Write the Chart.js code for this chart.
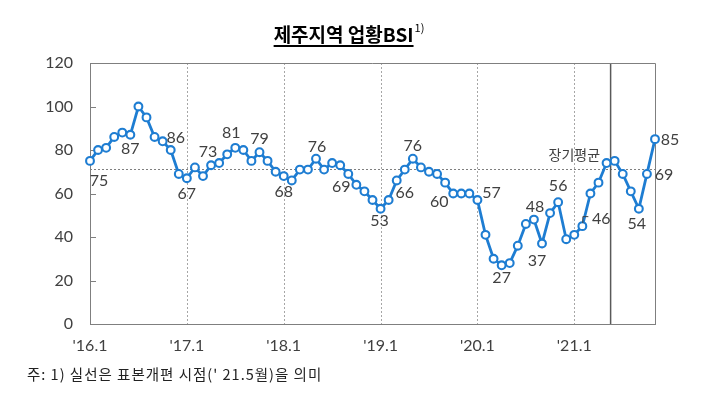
<!DOCTYPE html>
<html><head><meta charset="utf-8">
<script src="https://cdn.jsdelivr.net/npm/chart.js@4"></script>
<style>
html,body{margin:0;padding:0;background:#fff;}
#wrap{position:relative;width:710px;height:397px;overflow:hidden;}
#c{position:absolute;left:0;top:0;}
#title{position:absolute;top:20px;left:-6px;width:710px;text-align:center;font-family:"Noto Sans CJK KR";font-weight:bold;font-size:19px;color:#000;white-space:nowrap;}
#title .t{text-decoration:underline;text-underline-offset:3px;text-decoration-thickness:1.5px;}
#title sup{font-size:11px;font-weight:normal;position:relative;top:-3px;margin-left:1px;}
#note{position:absolute;left:27px;top:363px;font-family:"Noto Sans CJK KR";font-size:14.5px;letter-spacing:1px;color:#222;white-space:nowrap;}
</style>
</head><body>
<div id="wrap">
<canvas id="c" width="710" height="397"></canvas>
<div id="title"><span class="t">제주지역 업황BSI</span><sup>1)</sup></div>
<div id="note">주: 1) 실선은 표본개편 시점(' 21.5월)을 의미</div>
</div>
<script>
// ---- data ----
const years = ['16','17','18','19','20','21'];
const bsi2016 = [75,80,81,86,88,87,100,95,86,84,80,69];
const bsi2017 = [67,72,68,73,74,78,81,80,75,79,75,70];
const bsi2018 = [68,66,71,71,76,71,74,73,69,64,61,57];
const bsi2019 = [53,57,66,71,76,72,70,69,65,60,60,60];
const bsi2020 = [57,41,30,27,28,36,46,48,37,51,56,39];
const bsi2021 = [41,45,60,65,74,75,69,61,53,69,85];
const longTermAvg = 71.3;
const sampleRevisionIndex = 64.5; // between '21.5 and '21.6
const yTicks = [0,20,40,60,80,100,120];
const tickLabels = ["'16.1","'17.1","'18.1","'19.1","'20.1","'21.1"];
// label text per point index
const pointLabels = {0:'75',5:'87',10:'86',12:'67',15:'73',18:'81',21:'79',24:'68',28:'76',32:'69',36:'53',38:'66',40:'76',45:'60',48:'57',51:'27',55:'48',56:'37',58:'56',61:'46',68:'54',69:'69',70:'85'};

// ---- build ----
const values = [].concat(bsi2016,bsi2017,bsi2018,bsi2019,bsi2020,bsi2021);
const categories = [];
years.forEach(y=>{for(let m=1;m<=12;m++) categories.push("'"+y+"."+m);});
categories.length = values.length;

// label placement offsets (px, relative to the point)
const labelOffset = {0:[9,20],5:[0,14],10:[5,-12],12:[0,16],15:[-3,-13],18:[-4,-15],21:[0,-13],24:[0,16],28:[1,-12],32:[-7,13],36:[-1,12],38:[8,12],40:[0,-13],45:[-14,8],48:[14,-7],51:[0,13],55:[1,-13],56:[-5,17],58:[0,-16],61:[19,-7],68:[-2,15],69:[17,1],70:[15,1]};

const TXT = '#404040';
const decor = {
  id:'decor',
  beforeDatasetsDraw(chart){
    const {ctx, chartArea:a, scales:{x,y}} = chart;
    ctx.save();
    ctx.strokeStyle='#a6a6a6'; ctx.lineWidth=1; ctx.setLineDash([2,2]);
    categories.forEach((c,i)=>{
      if(i>0 && c.endsWith('.1') && !c.endsWith('.11')){
        const px=Math.round(x.getPixelForValue(i))+0.5;
        ctx.beginPath(); ctx.moveTo(px,a.top); ctx.lineTo(px,a.bottom); ctx.stroke();
      }
    });
    ctx.strokeStyle='#7f7f7f';
    const ay=Math.round(y.getPixelForValue(longTermAvg))+0.5;
    ctx.beginPath(); ctx.moveTo(a.left,ay); ctx.lineTo(a.right,ay); ctx.stroke();
    ctx.setLineDash([]);
    ctx.strokeStyle='#595959'; ctx.lineWidth=1.5;
    const sx=x.getPixelForValue(sampleRevisionIndex);
    ctx.beginPath(); ctx.moveTo(sx,a.top); ctx.lineTo(sx,a.bottom); ctx.stroke();
    ctx.strokeStyle='#7f7f7f'; ctx.lineWidth=1;
    ctx.beginPath(); ctx.moveTo(a.left,a.top+0.5); ctx.lineTo(a.right+0.5,a.top+0.5); ctx.lineTo(a.right+0.5,a.bottom); ctx.stroke();
    yTicks.forEach(v=>{
      const py=Math.round(y.getPixelForValue(v))+0.5;
      ctx.beginPath(); ctx.moveTo(a.left,py); ctx.lineTo(a.left+6,py); ctx.stroke();
    });
    ctx.restore();
  },
  afterDatasetsDraw(chart){
    const {ctx, scales:{x,y}} = chart;
    ctx.save();
    ctx.fillStyle=TXT; ctx.font='16px Lato'; ctx.textAlign='center'; ctx.textBaseline='middle';
    Object.keys(pointLabels).forEach(k=>{
      const i=+k; const off=labelOffset[i]||[0,-12];
      ctx.fillText(pointLabels[i], x.getPixelForValue(i)+off[0], y.getPixelForValue(values[i])+off[1]);
    });
    const lx=x.getPixelForValue(61), ly=y.getPixelForValue(values[61]);
    ctx.strokeStyle=TXT; ctx.lineWidth=1;
    ctx.beginPath(); ctx.moveTo(lx+0.5,ly-3); ctx.lineTo(lx+0.5,ly-9.5); ctx.lineTo(lx+6,ly-9.5); ctx.stroke();
    ctx.font='14px "Noto Sans CJK KR"';
    ctx.fillText('장기평균', x.getPixelForValue(60), y.getPixelForValue(longTermAvg)-14);
    ctx.restore();
  }
};

new Chart(document.getElementById('c'), {
  type:'line',
  data:{labels:categories, datasets:[{
    data:values,
    borderColor:'#1e7dd2', borderWidth:2.8,
    pointRadius:3.9, pointBorderWidth:2.1, pointBackgroundColor:'#fff', pointBorderColor:'#1e7dd2',
    tension:0, clip:false
  }]},
  options:{
    responsive:false, animation:false, devicePixelRatio:1,
    layout:{padding:{top:63,right:55,bottom:0,left:0}},
    plugins:{legend:{display:false}, tooltip:{enabled:false}, title:{display:false}},
    scales:{
      x:{
        type:'category', offset:false,
        grid:{display:false, drawTicks:false, tickLength:0},
        border:{display:true, color:'#7f7f7f', width:1},
        ticks:{autoSkip:false, maxRotation:0, minRotation:0, padding:12, color:TXT, font:{family:'Lato', size:16},
          callback:(v,i)=>{ const c=categories[i]; return tickLabels.includes(c)?c:null; }},
        afterFit:s=>{s.height=73;}
      },
      y:{
        min:0, max:120,
        grid:{display:false, drawTicks:false, tickLength:0},
        border:{display:true, color:'#7f7f7f', width:1},
        ticks:{stepSize:20, padding:17, color:TXT, font:{family:'Lato', size:16}},
        afterFit:s=>{s.width=90;}
      }
    }
  },
  plugins:[decor]
});
</script>
</body></html>
